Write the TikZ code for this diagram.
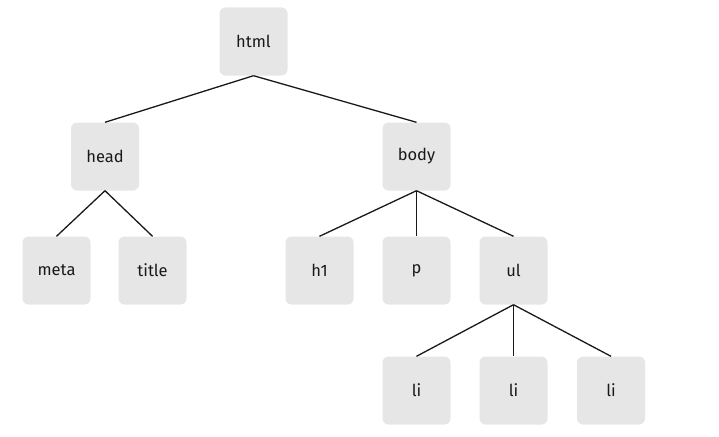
\documentclass[tikz,border=0pt]{standalone}
\usepackage{fontspec}
\setmainfont{Fira Sans}
\begin{document}
\begin{tikzpicture}[x=1pt,y=-1pt,
  box/.style={fill=boxgray,rounded corners=6pt,minimum width=68pt,minimum height=68pt,inner sep=0pt,font=\fontsize{16.5}{19}\selectfont,text=black!90},
  link/.style={draw=black!90,line width=1.3pt}]
\definecolor{boxgray}{HTML}{E6E6E6}
\useasboundingbox (0,0) rectangle (719,436);
\node[box] (html) at (253.5,41.5) {html};
\node[box] (head) at (105,156.5) {head};
\node[box] (body) at (416.5,156.5) {body};
\node[box] (meta) at (56.5,270.5) {meta};
\node[box] (title) at (152.5,270.5) {title};
\node[box] (h1) at (319.5,270.5) {h1};
\node[box] (p) at (416.5,270.5) {p};
\node[box] (ul) at (513.5,270.5) {ul};
\node[box] (li1) at (416.5,390.5) {li};
\node[box] (li2) at (513.5,390.5) {li};
\node[box] (li3) at (611,390.5) {li};
\draw[link] (html.south) -- (head.north);
\draw[link] (html.south) -- (body.north);
\draw[link] (head.south) -- (meta.north);
\draw[link] (head.south) -- (title.north);
\draw[link] (body.south) -- (h1.north);
\draw[link] (body.south) -- (p.north);
\draw[link] (body.south) -- (ul.north);
\draw[link] (ul.south) -- (li1.north);
\draw[link] (ul.south) -- (li2.north);
\draw[link] (ul.south) -- (li3.north);
\end{tikzpicture}
\end{document}
